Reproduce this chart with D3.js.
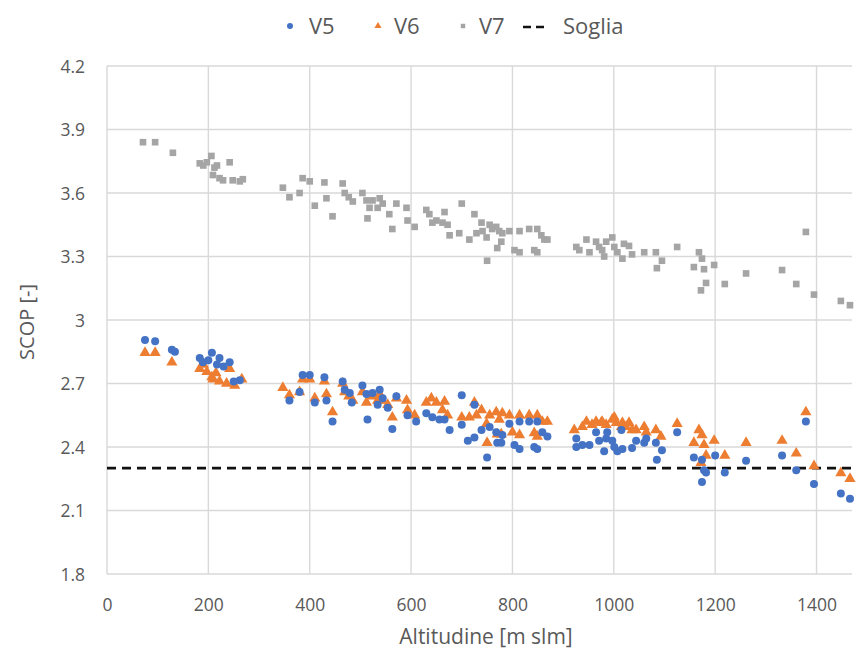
<!DOCTYPE html>
<html>
<head>
<meta charset="utf-8">
<script src="https://cdn.jsdelivr.net/npm/d3@7"></script>
<style>
  body { margin: 0; background: #fff; }
  text { font-family: "Open Sans", Lato, sans-serif; fill: #595959; }
</style>
</head>
<body>
<script>
// tick values
var xTicks = [0, 200, 400, 600, 800, 1000, 1200, 1400];
var yTicks = [1.8, 2.1, 2.4, 2.7, 3.0, 3.3, 3.6, 3.9, 4.2];
var soglia = 2.3;

// [altitude, SCOP]
var v5 = [[75,2.905],[95,2.90],[128,2.86],[134,2.85],[183,2.82],[207,2.845],[222,2.82],[242,2.80],[189,2.80],[217,2.79],[200,2.81],[230,2.78],[250,2.71],[262,2.715],
  [360,2.62],[380,2.66],[386,2.74],[400,2.74],[429,2.73],[410,2.61],[433,2.62],[445,2.52],[465,2.71],[469,2.67],[479,2.655],[483,2.61],
  [504,2.69],[512,2.65],[514,2.53],[524,2.655],[538,2.67],[534,2.60],[544,2.63],[554,2.585],[563,2.485],[571,2.64],[593,2.55],[610,2.52],
  [630,2.56],[642,2.54],[656,2.53],[666,2.53],[676,2.48],[700,2.505],[700,2.645],[725,2.60],[712,2.43],[725,2.445],
  [739,2.48],[755,2.495],[768,2.47],[780,2.457],[794,2.51],[750,2.35],[770,2.42],[778,2.42],[804,2.41],[814,2.39],[814,2.52],[833,2.52],[849,2.52],[843,2.40],[849,2.39],[859,2.47],[869,2.45],
  [926,2.44],[926,2.40],[938,2.41],[952,2.41],[965,2.47],[971,2.43],[985,2.44],[981,2.38],[997,2.43],[1001,2.40],[1007,2.38],[1017,2.39],[987,2.47],[1015,2.48],[1036,2.395],
  [1044,2.43],[1060,2.42],[1064,2.44],[1083,2.42],[1095,2.385],[1085,2.34],[1125,2.47],
  [1158,2.35],[1174,2.34],[1178,2.29],[1182,2.28],[1174,2.235],[1200,2.36],[1219,2.28],[1261,2.335],[1332,2.36],[1360,2.29],[1379,2.52],[1395,2.225],[1448,2.18],[1466,2.155]];

var v6 = [[75,2.845],[95,2.845],[128,2.80],[183,2.77],[197,2.755],[207,2.73],[209,2.72],[222,2.71],[236,2.70],[252,2.69],[266,2.72],[242,2.77],[190,2.79],[215,2.75],
  [347,2.68],[360,2.645],[380,2.66],[386,2.72],[400,2.72],[429,2.71],[410,2.63],[433,2.65],[445,2.565],[465,2.70],[469,2.66],[477,2.64],[485,2.62],
  [504,2.66],[512,2.61],[524,2.64],[538,2.65],[534,2.62],[544,2.62],[554,2.60],[563,2.54],[571,2.63],[591,2.62],[593,2.575],[607,2.55],
  [630,2.61],[640,2.63],[650,2.61],[666,2.615],[662,2.575],[672,2.55],[700,2.54],[725,2.61],
  [715,2.54],[729,2.55],[739,2.575],[749,2.51],[755,2.55],[768,2.565],[774,2.53],[780,2.56],[794,2.55],[750,2.42],[770,2.46],[778,2.46],[800,2.47],[814,2.457],[814,2.55],[833,2.55],[849,2.55],[843,2.466],[849,2.45],[859,2.52],[869,2.52],
  [922,2.48],[938,2.495],[946,2.52],[957,2.505],[965,2.52],[975,2.515],[985,2.505],[997,2.53],[1005,2.515],[1015,2.495],[1017,2.515],[1024,2.495],[977,2.52],[1001,2.54],[1030,2.515],[1036,2.48],
  [1044,2.48],[1060,2.495],[1064,2.47],[1083,2.48],[1093,2.45],[1125,2.51],
  [1168,2.48],[1174,2.457],[1158,2.42],[1178,2.41],[1198,2.43],[1182,2.36],[1172,2.325],[1219,2.36],[1261,2.42],[1332,2.43],[1360,2.37],[1379,2.565],[1395,2.31],[1448,2.277],[1466,2.25]];

var v7 = [[71,3.84],[95,3.84],[130,3.79],[183,3.74],[190,3.73],[197,3.745],[206,3.775],[212,3.72],[217,3.73],[242,3.745],[209,3.685],[222,3.67],[229,3.66],[248,3.66],[262,3.655],[268,3.665],
  [347,3.625],[360,3.58],[380,3.6],[386,3.67],[400,3.655],[429,3.65],[410,3.54],[433,3.575],[445,3.49],[465,3.645],[469,3.6],[477,3.58],[485,3.56],
  [504,3.6],[512,3.565],[518,3.53],[514,3.48],[524,3.565],[538,3.575],[534,3.53],[544,3.55],[557,3.5],[571,3.55],[563,3.43],[591,3.53],[593,3.47],[607,3.44],
  [630,3.52],[636,3.5],[642,3.46],[650,3.47],[666,3.51],[662,3.46],[672,3.45],[676,3.4],[695,3.41],[700,3.55],[725,3.5],
  [715,3.38],[729,3.41],[739,3.46],[741,3.42],[749,3.39],[755,3.45],[760,3.43],[768,3.44],[774,3.42],[780,3.41],[794,3.42],[750,3.28],[770,3.34],[778,3.37],[804,3.33],[814,3.32],[814,3.42],[833,3.43],[849,3.43],[843,3.33],[849,3.32],[857,3.4],[863,3.38],[869,3.38],
  [926,3.345],[932,3.33],[946,3.38],[952,3.32],[965,3.37],[971,3.345],[977,3.33],[985,3.37],[981,3.3],[997,3.39],[1001,3.345],[1007,3.32],[1017,3.29],[1020,3.36],[1030,3.35],[1036,3.31],
  [1060,3.32],[1083,3.32],[1095,3.28],[1085,3.245],[1125,3.345],[1168,3.32],[1174,3.29],[1158,3.25],[1178,3.24],[1198,3.26],[1182,3.175],[1172,3.14],[1219,3.17],[1261,3.22],[1332,3.236],[1360,3.17],[1379,3.416],[1395,3.12],[1448,3.09],[1466,3.07]];

var colV5 = "#4472C4", colV6 = "#ED7D31", colV7 = "#A5A5A5";

var W = 862, H = 653;
var margin = {top: 66, right: 10, bottom: 79, left: 107};

var svg = d3.select("body").append("svg")
  .attr("width", W)
  .attr("height", H);

var x = d3.scaleLinear().domain([0, 1470]).range([margin.left, W - margin.right]);
var y = d3.scaleLinear().domain([1.8, 4.2]).range([H - margin.bottom, margin.top]);

// gridlines
svg.append("g").selectAll("line.h")
  .data(yTicks)
  .enter().append("line")
    .attr("x1", x(0)).attr("x2", x(1470))
    .attr("y1", function(d) { return y(d); })
    .attr("y2", function(d) { return y(d); })
    .attr("stroke", "#d9d9d9").attr("stroke-width", 1.4);

svg.append("g").selectAll("line.v")
  .data(xTicks)
  .enter().append("line")
    .attr("x1", function(d) { return x(d); })
    .attr("x2", function(d) { return x(d); })
    .attr("y1", y(1.8)).attr("y2", y(4.2))
    .attr("stroke", "#d9d9d9").attr("stroke-width", 1.4);

// axes (labels only)
var yAxis = svg.append("g")
  .attr("transform", "translate(" + (margin.left - 19) + ",0)")
  .call(d3.axisLeft(y).tickValues(yTicks).tickSize(0).tickFormat(function(d) { return d3.format("~g")(d); }));
yAxis.select(".domain").remove();
yAxis.selectAll("text").style("font-size", "17.5px").attr("dy", "0.36em");

var xAxis = svg.append("g")
  .attr("transform", "translate(0," + (H - margin.bottom + 22) + ")")
  .call(d3.axisBottom(x).tickValues(xTicks).tickSize(0).tickFormat(d3.format("d")));
xAxis.select(".domain").remove();
xAxis.selectAll("text").style("font-size", "17.5px").attr("dy", "0.7em");

svg.append("text")
  .attr("x", 486).attr("y", 644)
  .attr("text-anchor", "middle")
  .style("font-size", "21px")
  .text("Altitudine [m slm]");

svg.append("text")
  .attr("transform", "translate(34,322) rotate(-90)")
  .attr("text-anchor", "middle")
  .style("font-size", "20px")
  .text("SCOP [-]");

// threshold line
svg.append("line")
  .attr("x1", x(0)).attr("x2", x(1470))
  .attr("y1", y(soglia)).attr("y2", y(soglia))
  .attr("stroke", "#111").attr("stroke-width", 2.8)
  .attr("stroke-dasharray", "9,6");

// series
var sq = d3.symbol().type(d3.symbolSquare).size(44);
var tri = d3.symbol().type(d3.symbolTriangle).size(54);

svg.append("g").selectAll("path")
  .data(v7)
  .enter().append("path")
    .attr("d", sq)
    .attr("transform", function(d) { return "translate(" + x(d[0]) + "," + y(d[1]) + ")"; })
    .attr("fill", colV7);

svg.append("g").selectAll("path")
  .data(v6)
  .enter().append("path")
    .attr("d", tri)
    .attr("transform", function(d) { return "translate(" + x(d[0]) + "," + y(d[1]) + ")"; })
    .attr("fill", colV6);

svg.append("g").selectAll("circle")
  .data(v5)
  .enter().append("circle")
    .attr("cx", function(d) { return x(d[0]); })
    .attr("cy", function(d) { return y(d[1]); })
    .attr("r", 4)
    .attr("fill", colV5);

// legend
var legend = svg.append("g").attr("transform", "translate(0,26)");
legend.append("circle").attr("cx", 290).attr("cy", 0).attr("r", 3).attr("fill", colV5);
legend.append("text").attr("x", 309).attr("y", 0).attr("dy", "0.36em").style("font-size", "22px").text("V5");
legend.append("path").attr("d", d3.symbol().type(d3.symbolTriangle).size(22))
  .attr("transform", "translate(378,0)").attr("fill", colV6);
legend.append("text").attr("x", 394).attr("y", 0).attr("dy", "0.36em").style("font-size", "22px").text("V6");
legend.append("path").attr("d", d3.symbol().type(d3.symbolSquare).size(20))
  .attr("transform", "translate(463,0)").attr("fill", colV7);
legend.append("text").attr("x", 479).attr("y", 0).attr("dy", "0.36em").style("font-size", "22px").text("V7");
legend.append("line").attr("x1", 523).attr("x2", 548).attr("y1", 1).attr("y2", 1)
  .attr("stroke", "#111").attr("stroke-width", 2.5).attr("stroke-dasharray", "8,5");
legend.append("text").attr("x", 563).attr("y", 0).attr("dy", "0.36em").style("font-size", "22px").text("Soglia");
</script>
</body>
</html>
